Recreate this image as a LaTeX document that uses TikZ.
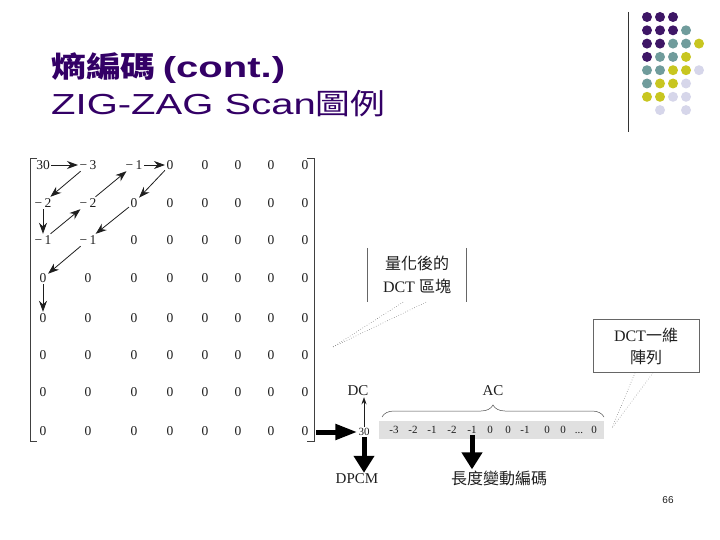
\documentclass[tikz,border=0pt]{standalone}
\usepackage{fontspec}
\setmainfont{Liberation Serif}
\newfontfamily\cjk{Noto Sans CJK TC}
\newfontfamily\titlesans[FakeStretch=1.38]{Liberation Sans}
\newfontfamily\titlecjk[FakeStretch=1.2]{Noto Sans CJK TC}
\newfontfamily\pagesans{Liberation Sans}
\usetikzlibrary{arrows.meta,decorations.pathreplacing}
\definecolor{titlepurple}{RGB}{51,0,102}
\definecolor{dotP}{RGB}{62,22,102}
\definecolor{dotT}{RGB}{112,156,156}
\definecolor{dotY}{RGB}{200,198,32}
\definecolor{dotL}{RGB}{214,214,234}
\definecolor{bargray}{RGB}{224,224,224}
\definecolor{ink}{RGB}{30,30,30}
\newcommand\nv[1]{−\,#1}
\newcommand\dotsrun{...}
\tikzset{
  num/.style={font=\fontsize{13.5}{13.5}\selectfont, inner sep=1.5pt, text=ink, text height=9pt, text depth=0pt},
  zz/.style={draw=ink, line width=0.8pt, -{Stealth[length=11pt,width=8pt]}},
  thickh/.style={draw=black, line width=5pt, -{Triangle[length=22pt,width=15pt]}},
  thickv/.style={draw=black, line width=5pt, -{Triangle[length=17pt,width=20pt]}},
  thin/.style={draw=ink, line width=0.6pt, -{Stealth[length=7pt,width=5pt]}},
  lbl/.style={font=\fontsize{15}{17}\selectfont, text=ink, inner sep=1pt},
  cjklbl/.style={font=\cjk\fontsize{16}{22}\selectfont, text=ink, align=center, inner sep=1pt},
  tok/.style={font=\fontsize{11}{11}\selectfont, text=ink, inner sep=1pt, text height=7.5pt, text depth=0pt},
  callout/.style={draw=black!65, line width=0.5pt, dotted},
  bracketline/.style={draw=black!75, line width=0.8pt},
}
\begin{document}
\begin{tikzpicture}[x=1pt,y=-1pt]
\useasboundingbox (0,0) rectangle (720,540);
% title
\node[anchor=base west, inner sep=0, text=titlepurple, font=\fontsize{29}{30}\selectfont] (t1) at (51,78)
  {{\titlecjk\bfseries 熵編碼} {\titlesans\bfseries (cont.)}};
\node[anchor=base west, inner sep=0, text=titlepurple, font=\fontsize{29}{30}\selectfont] (t2) at (51,115)
  {{\titlesans ZIG-ZAG Scan}{\titlecjk 圖例}};
% decoration
\draw[line width=1pt, black!80] (628,12) -- (628,132);
\foreach \c/\r/\k in {0/0/P,1/0/P,2/0/P, 0/1/P,1/1/P,2/1/P,3/1/T, 0/2/P,1/2/P,2/2/T,3/2/T,4/2/Y,
  0/3/P,1/3/T,2/3/T,3/3/Y, 0/4/T,1/4/T,2/4/Y,3/4/Y,4/4/L, 0/5/T,1/5/Y,2/5/Y,3/5/L,
  0/6/Y,1/6/Y,2/6/L,3/6/L, 1/7/L,3/7/L}
  \fill[dot\k] ({647+13*\c},{17+13.3*\r}) circle[radius=5pt];
% matrix
\foreach \r/\y/\vals in {0/165/{30,\nv3,\nv1,0,0,0,0,0},1/203/{\nv2,\nv2,0,0,0,0,0,0},
  2/240/{\nv1,\nv1,0,0,0,0,0,0},3/278/{0,0,0,0,0,0,0,0},4/318/{0,0,0,0,0,0,0,0},
  5/355/{0,0,0,0,0,0,0,0},6/392/{0,0,0,0,0,0,0,0},7/431/{0,0,0,0,0,0,0,0}}
  \foreach \v [count=\c from 0] in \vals {
    \pgfmathsetmacro\xx{{43,88,134,170,205,238,271,305}[\c]}
    \node[num] (m\r\c) at (\xx,\y) {\v};
  }
\draw[bracketline] (37,158) -- (30,158) -- (30,441) -- (37,441);
\draw[bracketline] (307,158) -- (314,158) -- (314,441) -- (307,441);
\draw[zz] (m00) -- (m01);
\draw[zz] (m01) -- (m10);
\draw[zz] (m10) -- (m20);
\draw[zz] (m20) -- (m11);
\draw[zz] (m11) -- (m02);
\draw[zz] (m02) -- (m03);
\draw[zz] (m03) -- (m12);
\draw[zz] (m12) -- (m21);
\draw[zz] (m21) -- (m30);
\draw[zz] (m30) -- (m40);
% 1-D array
\fill[bargray] (379,421) rectangle (604,439);
\node[tok] (thirty) at (364,432) {30};
\foreach \t/\x [count=\i] in {-3/394,-2/413,-1/432,-2/452,-1/472,0/490,0/508,-1/525,0/547,0/563,\dotsrun/579,0/594}
  \node[tok] (a\i) at (\x,430) {\t};
\coordinate (mr) at (316,432);
\draw[thickh] (mr) -- (thirty.west);
\node[lbl] (dc) at (358,391) {DC};
\draw[thin] (thirty.north) -- (thirty.north |- dc.south);
\node[lbl] (ac) at (493,391) {AC};
\coordinate (bl) at (382,417);
\coordinate (br) at (604,417);
\draw[draw=black!70, line width=0.5pt, decorate, decoration={brace, amplitude=12pt}] (bl) -- (br);
\node[lbl] (dpcm) at (357,479) {DPCM};
\draw[thickv] (thirty.south) -- (thirty.south |- dpcm.north);
\node[cjklbl] (vlc) at (499,478) {長度變動編碼};
\draw[thickv] (a5.south) -- (a5.south |- vlc.north);
% callouts
\node[cjklbl, minimum width=99pt, minimum height=54pt, font=\fontsize{16}{23}\selectfont] (qb) at (417,275)
  {{\cjk 量化後的}\\DCT {\cjk 區塊}};
\draw[draw=black!60, line width=0.6pt] (qb.north west) -- (qb.south west);
\draw[draw=black!60, line width=0.6pt] (qb.north east) -- (qb.south east);
\coordinate (qtip) at (333,347);
\draw[callout] ([xshift=-14pt]qb.south) -- (qtip);
\draw[callout] ([xshift=9pt]qb.south) -- (qtip);
\node[cjklbl, draw=black!60, line width=0.6pt, minimum width=106pt, minimum height=53pt, font=\fontsize{16}{22}\selectfont] (db) at (646,346)
  {DCT{\cjk 一維}\\{\cjk 陣列}};
\coordinate (dtip) at (612,428);
\draw[callout] ([xshift=-11pt]db.south) -- (dtip);
\draw[callout] ([xshift=7pt]db.south) -- (dtip);
% page number
\node[font=\pagesans\fontsize{10}{10}\selectfont, text=ink] (pg) at (668,500) {66};
\end{tikzpicture}
\end{document}
